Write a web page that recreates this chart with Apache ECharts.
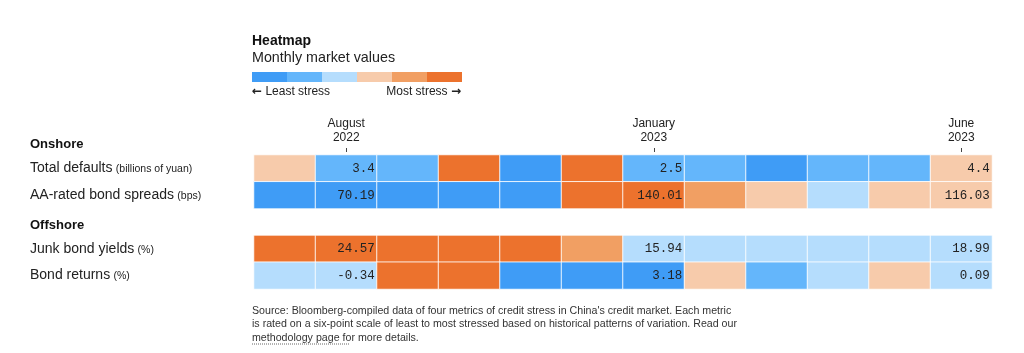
<!DOCTYPE html>
<html>
<head>
<meta charset="utf-8">
<script src="https://cdn.jsdelivr.net/npm/echarts@6/dist/echarts.min.js"></script>
<style>
  html, body { margin: 0; padding: 0; background: #fff; }
  #chart { width: 1024px; height: 353px; }
</style>
</head>
<body>
<div id="chart"></div>
<script>
// months shown on the x axis (only a few get a label)
const months = ['July 2022', 'August 2022', 'September 2022', 'October 2022', 'November 2022', 'December 2022',
  'January 2023', 'February 2023', 'March 2023', 'April 2023', 'May 2023', 'June 2023'];
const labeledMonths = [1, 6, 11];

// rows, the empty third row is the gap with the "Offshore" heading
const rows = ['Total defaults', 'AA-rated bond spreads', 'Offshore', 'Junk bond yields', 'Bond returns'];
const units = ['(billions of yuan)', '(bps)', '', '(%)', '(%)'];

// stress level 1 (least) .. 6 (most)
const totalDefaults = [4, 2, 2, 6, 1, 6, 2, 2, 1, 2, 2, 4];
const aaSpreads = [1, 1, 1, 1, 1, 6, 6, 5, 4, 3, 4, 4];
const junkYields = [6, 6, 6, 6, 6, 5, 3, 3, 3, 3, 3, 3];
const bondReturns = [3, 3, 6, 6, 1, 1, 1, 4, 2, 3, 4, 3];

// values printed in the labeled months
const defaultsValues = ['3.4', '2.5', '4.4'];
const spreadsValues = ['70.19', '140.01', '116.03'];
const yieldsValues = ['24.57', '15.94', '18.99'];
const returnsValues = ['-0.34', '3.18', '0.09'];

const levelColors = ['#3f9cf6', '#64b6fb', '#b5ddfd', '#f7cbab', '#f19f63', '#ec722d'];

const font = "'Liberation Sans', Arial, sans-serif";

let data = [];
function addRow(levels, values, rowIdx) {
    for (let i = 0; i < levels.length; i++) {
        let k = labeledMonths.indexOf(i);
        data.push([i, rowIdx, levels[i], k >= 0 ? values[k] : '']);
    }
}
addRow(totalDefaults, defaultsValues, 0);
addRow(aaSpreads, spreadsValues, 1);
addRow(junkYields, yieldsValues, 3);
addRow(bondReturns, returnsValues, 4);

const chart = echarts.init(document.getElementById('chart'));
const arrowRich = {
    t: { fontSize: 12, fontFamily: font, fill: '#222' },
    a: { fontSize: 12, fontFamily: "'DejaVu Sans', sans-serif", fontWeight: 'bold', fill: '#222' }
};
const option = {
    animation: false,
    textStyle: { fontFamily: font },
    title: {
        text: 'Heatmap',
        subtext: 'Monthly market values',
        left: 247,
        top: 29,
        itemGap: 3,
        textStyle: { fontSize: 14, fontWeight: 'bold', color: '#111', fontFamily: font },
        subtextStyle: { fontSize: 14.3, color: '#222', fontFamily: font }
    },
    grid: { left: 254, right: 32, top: 155, bottom: 64 },
    xAxis: {
        type: 'category',
        position: 'top',
        data: months,
        offset: 3,
        axisLine: { show: false },
        axisTick: {
            show: true,
            alignWithLabel: true,
            length: 4,
            interval: function (idx) { return labeledMonths.indexOf(idx) >= 0; },
            lineStyle: { color: '#444', width: 1 }
        },
        axisLabel: {
            interval: function (idx) { return labeledMonths.indexOf(idx) >= 0; },
            formatter: function (v) { return v.split(' ')[0] + '\n' + v.split(' ')[1]; },
            fontSize: 12,
            lineHeight: 14,
            color: '#222',
            margin: 7
        },
        splitLine: { show: false }
    },
    yAxis: {
        type: 'category',
        data: rows,
        inverse: true,
        axisLine: { show: false },
        axisTick: { show: false },
        splitLine: { show: false },
        axisLabel: {
            align: 'left',
            margin: 224,
            formatter: function (v, idx) {
                if (v === 'Offshore') return '{head|Offshore}';
                return '{name|' + v + '} {unit|' + units[idx] + '}';
            },
            rich: {
                name: { fontSize: 14, color: '#222', fontFamily: font },
                unit: { fontSize: 10.5, color: '#222', fontFamily: font, padding: [2, 0, 0, 0] },
                head: { fontSize: 13, fontWeight: 'bold', color: '#111', fontFamily: font, padding: [6, 0, 0, 0] }
            }
        }
    },
    visualMap: {
        type: 'piecewise',
        dimension: 2,
        seriesIndex: 0,
        orient: 'horizontal',
        left: 252,
        top: 72,
        itemWidth: 35,
        itemHeight: 10,
        itemGap: 0,
        itemSymbol: 'rect',
        showLabel: false,
        selectedMode: false,
        padding: 0,
        pieces: levelColors.map(function (c, i) { return { value: i + 1, color: c }; })
    },
    graphic: [
        { type: 'text', left: 30, top: 138, style: { text: 'Onshore', font: 'bold 13px ' + font, fill: '#111' } },
        { type: 'text', left: 252, top: 85.5, style: { text: '{a|\u2190} {t|Least stress}', rich: arrowRich } },
        { type: 'text', right: 1024 - 461, top: 85.5, style: { text: '{t|Most stress} {a|\u2192}', rich: arrowRich, textAlign: 'right' } },
        {
            type: 'text', left: 252, top: 304,
            style: {
                text: "Source: Bloomberg-compiled data of four metrics of credit stress in China's credit market. Each metric\n" +
                    'is rated on a six-point scale of least to most stressed based on historical patterns of variation. Read our\n' +
                    'methodology page for more details.',
                font: '10.65px ' + font, fill: '#333', lineHeight: 13.5
            }
        },
        {
            type: 'line', shape: { x1: 252, y1: 344, x2: 350, y2: 344 },
            style: { stroke: '#666', lineWidth: 1, lineDash: [1, 1] }
        }
    ],
    series: [{
        type: 'heatmap',
        data: data,
        itemStyle: { borderColor: 'rgba(255,255,255,0.85)', borderWidth: 1 },
        label: {
            show: true,
            position: 'insideRight',
            distance: 3,
            formatter: function (p) { return p.data[3]; },
            fontFamily: "'Liberation Mono', 'DejaVu Sans Mono', monospace",
            fontSize: 12.5,
            color: '#222'
        },
        emphasis: { disabled: true }
    }]
};
chart.setOption(option);
window.addEventListener('resize', function () {
    chart.resize();
});
</script>
</body>
</html>
